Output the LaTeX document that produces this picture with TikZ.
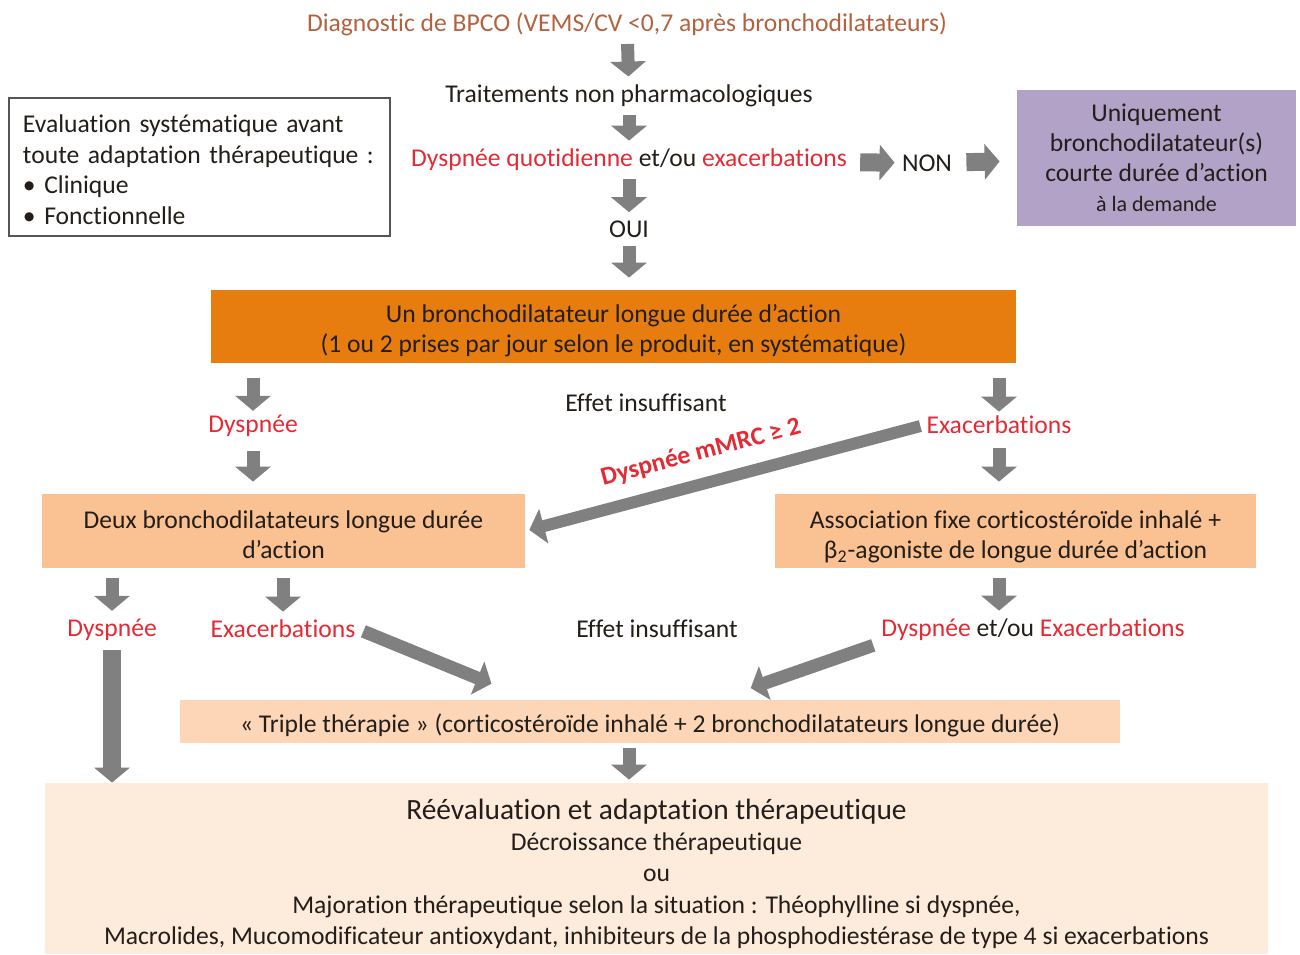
\documentclass[tikz,border=0pt]{standalone}
\usepackage{fontspec}
\setmainfont{Carlito}[Ligatures=NoCommon]
\usetikzlibrary{arrows.meta}

\definecolor{brun}{RGB}{178,98,62}
\definecolor{rouge}{RGB}{228,42,52}
\definecolor{gris}{RGB}{128,128,128}
\definecolor{texte}{RGB}{35,30,25}
\definecolor{orangef}{RGB}{231,125,14}
\definecolor{orangec}{RGB}{250,193,146}
\definecolor{orangep}{RGB}{252,214,182}
\definecolor{orangel}{RGB}{253,235,220}
\definecolor{mauve}{RGB}{179,162,199}
\definecolor{bord}{RGB}{85,85,85}

\newcommand\corps{\fontsize{12.8}{15}\selectfont}
\newcommand\grand{\fontsize{14.7}{16}\selectfont}
\newcommand\petit{\fontsize{11}{14}\selectfont}
\newcommand\rg[1]{\textcolor{rouge}{#1}}
\newcommand\haut[1]{\rule{0pt}{#1}}

\tikzset{
  fleche/.style={draw=gris, line width=6.5pt, -{Triangle[width=17.5pt,length=7.5pt]}, shorten <=3pt, shorten >=3pt},
  grosse/.style={fleche, line width=9pt},
  txt/.style={inner sep=1pt, align=center, text=texte},
  boite/.style={inner sep=0pt, align=center, text=texte},
}

\begin{document}
\begin{tikzpicture}[x=0.5pt, y=-0.5pt, font=\corps]
\useasboundingbox (0,0) rectangle (1300,954);

\node[txt, text=brun] (diag) at (627,24) {Diagnostic de BPCO (VEMS/CV <0,7 après bronchodilatateurs)};
\node[txt] (trait) at (629,96) {Traitements non pharmacologiques};
\node[txt] (dysq) at (629,160) {\rg{Dyspnée quotidienne} et/ou \rg{exacerbations}};
\node[txt] (non) at (927,163) {NON};
\node[txt] (oui) at (629,229) {OUI};

\node[boite, fill=mauve, minimum width=139.5pt, minimum height=68pt] (court) at (1156.5,158)
  {Uniquement\\bronchodilatateur(s)\\courte durée d’action\\{\petit à la demande}};
\node[boite, draw=bord, line width=1pt, align=left, text width=176.5pt, inner xsep=7pt, minimum height=69pt,
  font=\fontsize{12.8}{15.4}\selectfont] (eval) at (199.5,167)
  {\haut{11.5pt}Evaluation systématique avant\\toute adaptation thérapeutique :\\• Clinique\\• Fonctionnelle};

\node[boite, fill=orangef, minimum width=402.5pt, minimum height=36.5pt] (un) at (613.5,326.5)
  {\haut{13.3pt}Un bronchodilatateur longue durée d’action\\(1 ou 2 prises par jour selon le produit, en systématique)};

\node[txt, text=rouge] (dys1) at (253,426) {Dyspnée};
\node[txt, text=rouge] (exa1) at (999,425) {Exacerbations};
\node[txt] (eff1) at (646,403) {Effet insuffisant};

\node[boite, fill=orangec, minimum width=241.5pt, minimum height=37pt] (deux) at (283.5,531)
  {\haut{12.8pt}Deux bronchodilatateurs longue durée\\d’action};
\node[boite, fill=orangec, minimum width=240.5pt, minimum height=37pt] (assoc) at (1015.5,531)
  {\haut{14.8pt}Association fixe corticostéroïde inhalé +\\β\textsubscript{2}-agoniste de longue durée d’action};

\node[txt, text=rouge] (dys2) at (112,630) {Dyspnée};
\node[txt, text=rouge] (exa2) at (283,629) {Exacerbations};
\node[txt] (eff2) at (657,629) {Effet insuffisant};
\node[txt] (dysou) at (1033,630) {\rg{Dyspnée} et/ou \rg{Exacerbations}};

\node[boite, fill=orangep, minimum width=470pt, minimum height=21.5pt] (triple) at (650,721.5)
  {\haut{13pt}«~Triple thérapie~» (corticostéroïde inhalé + 2 bronchodilatateurs longue durée)};
\node[boite, fill=orangel, minimum width=611.5pt, minimum height=85.5pt] (reev) at (656.5,868.5)
  {{\grand\haut{15.6pt}Réévaluation et adaptation thérapeutique}\\[0.5pt]
   Décroissance thérapeutique\\[0.6pt]ou\\[0.6pt]
   Majoration thérapeutique selon la situation : Théophylline si dyspnée,\\[0.6pt]
   Macrolides, Mucomodificateur antioxydant, inhibiteurs de la phosphodiestérase de type 4 si exacerbations};

\coordinate (t1) at (497,686);
\coordinate (t2) at (745,690);

\draw[fleche] (diag) -- (trait);
\draw[fleche] (trait) -- (dysq);
\draw[fleche] (dysq) -- (oui);
\draw[fleche, shorten >=6pt] (oui) -- (un.north -| oui);
\draw[grosse, shorten <=5.5pt, shorten >=2.5pt] (dysq) -- (non);
\draw[grosse, shorten <=6pt, shorten >=8.5pt] (non) -- (court);

\draw[fleche, shorten <=7.5pt, shorten >=1pt] (un.south -| dys1) -- (dys1);
\draw[fleche, shorten <=7.5pt, shorten >=1pt] (un.south -| exa1) -- (exa1);
\draw[fleche, shorten <=6pt, shorten >=6pt] (dys1) -- (deux.north -| dys1);
\draw[fleche, shorten <=6pt, shorten >=6pt] (exa1) -- (assoc.north -| exa1);
\draw[fleche, line width=6pt, shorten <=2pt, shorten >=2pt] (exa1.west) -- (deux.east)
  node[pos=0.54, sloped, above=3.5pt, text=rouge, font=\corps\bfseries] {Dyspnée mMRC ≥ 2};

\draw[fleche, shorten <=5pt, shorten >=3pt] (deux.south -| dys2) -- (dys2);
\draw[fleche, shorten <=5pt, shorten >=3pt] (deux.south -| exa2) -- (exa2);
\draw[fleche, shorten <=5pt, shorten >=3pt] (assoc.south -| exa1) -- (dysou.north -| exa1);
\draw[fleche] (exa2.east) -- (t1);
\draw[fleche] (dysou.south west) -- (t2);
\draw[grosse, shorten <=3.5pt, shorten >=0pt] (dys2) -- (dys2 |- reev.north);
\draw[fleche, shorten <=2.5pt, shorten >=1.5pt] (triple.south -| trait) -- (reev.north -| trait);
\end{tikzpicture}
\end{document}
